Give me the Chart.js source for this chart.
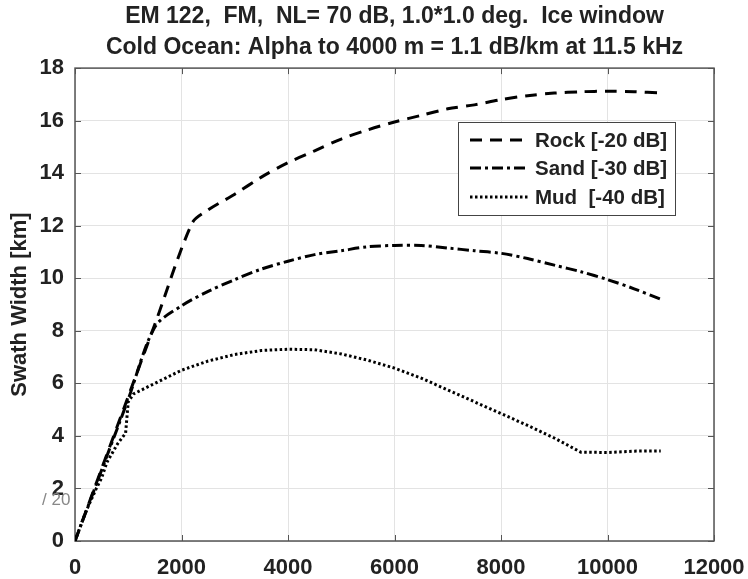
<!DOCTYPE html>
<html><head><meta charset="utf-8">
<script src="https://cdn.jsdelivr.net/npm/chart.js@4"></script>
<style>html,body{margin:0;padding:0;background:#fff}#wrap{width:748px;height:579px}</style>
</head><body><div id="wrap"><canvas id="c" width="748" height="579"></canvas></div>
<script>
const titleLines = ['EM 122,  FM,  NL= 70 dB, 1.0*1.0 deg.  Ice window',
                    'Cold Ocean: Alpha to 4000 m = 1.1 dB/km at 11.5 kHz'];
const yAxisLabel = 'Swath Width [km]';
const watermark = '/ 20';
const seriesNames = ['Rock [-20 dB]', 'Sand [-30 dB]', 'Mud  [-40 dB]'];
const xTicks = [0, 2000, 4000, 6000, 8000, 10000, 12000];
const yTicks = [0, 2, 4, 6, 8, 10, 12, 14, 16, 18];

const rockDepth = [0, 500, 1000, 1500, 2200, 2500, 3000, 3500, 4000, 4500, 5000, 5500, 6000, 6500, 7000, 7500, 8000, 8500, 9000, 9500, 10000, 10500, 11000];
const rockSwath = [0, 2.75, 5.5, 8.25, 12.1, 12.6, 13.2, 13.85, 14.4, 14.85, 15.3, 15.65, 15.95, 16.2, 16.45, 16.6, 16.8, 16.95, 17.05, 17.1, 17.12, 17.1, 17.05];

const sandDepth = [0, 500, 1000, 1500, 2000, 2500, 3000, 3500, 4000, 4500, 5000, 5500, 6000, 6500, 7000, 7500, 8000, 8500, 9000, 9500, 10000, 10500, 11000];
const sandSwath = [0, 2.7, 5.4, 8.15, 8.95, 9.5, 9.95, 10.35, 10.65, 10.9, 11.05, 11.2, 11.25, 11.25, 11.15, 11.05, 10.95, 10.75, 10.5, 10.25, 9.95, 9.6, 9.2];

const mudDepth = [0, 200, 400, 500, 600, 800, 950, 1000, 1100, 1500, 2000, 2500, 3000, 3500, 4000, 4500, 5000, 5500, 6000, 6500, 7000, 7500, 8000, 8500, 9000, 9500, 10000, 10500, 11000];
const mudSwath = [0, 1.1, 2.0, 2.4, 3.0, 3.7, 4.1, 5.3, 5.6, 6.0, 6.5, 6.85, 7.1, 7.25, 7.3, 7.28, 7.12, 6.88, 6.58, 6.2, 5.75, 5.3, 4.85, 4.4, 3.92, 3.38, 3.37, 3.42, 3.43];

const toPts = (xs, ys) => xs.map((x, i) => ({x: x, y: ys[i]}));

Chart.defaults.font.family = '"Liberation Sans", Arial, sans-serif';
Chart.defaults.color = '#222';

const boxPlugin = {
  id: 'matlabBox',
  beforeDatasetsDraw(chart) {
    const {ctx, chartArea: a, scales} = chart;
    ctx.save();
    ctx.strokeStyle = '#555';
    ctx.lineWidth = 1;
    xTicks.forEach(v => {
      const px = Math.round(scales.x.getPixelForValue(v)) + 0.5;
      ctx.beginPath(); ctx.moveTo(px, a.bottom); ctx.lineTo(px, a.bottom - 6);
      ctx.moveTo(px, a.top); ctx.lineTo(px, a.top + 6); ctx.stroke();
    });
    yTicks.forEach(v => {
      const py = Math.round(scales.y.getPixelForValue(v)) + 0.5;
      ctx.beginPath(); ctx.moveTo(a.left, py); ctx.lineTo(a.left + 6, py);
      ctx.moveTo(a.right, py); ctx.lineTo(a.right - 6, py); ctx.stroke();
    });
    ctx.lineWidth = 1.5;
    ctx.strokeRect(a.left, a.top, a.right - a.left, a.bottom - a.top);
    ctx.restore();
  },
  afterDatasetsDraw(chart) {
    const {ctx} = chart;
    ctx.save();
    const L = 458, T = 122, W = 217, H = 93;
    ctx.fillStyle = '#fff';
    ctx.fillRect(L, T, W, H);
    ctx.strokeStyle = '#444';
    ctx.lineWidth = 1;
    ctx.strokeRect(L + 0.5, T + 0.5, W, H);
    const rows = [140, 168, 197];
    chart.data.datasets.forEach((ds, i) => {
      ctx.beginPath();
      ctx.setLineDash(ds.borderDash || []);
      ctx.strokeStyle = ds.borderColor;
      ctx.lineWidth = ds.borderWidth;
      ctx.moveTo(470, rows[i]); ctx.lineTo(529, rows[i]);
      ctx.stroke();
      ctx.setLineDash([]);
      ctx.fillStyle = '#222';
      ctx.font = 'bold 20.5px "Liberation Sans", Arial, sans-serif';
      ctx.textBaseline = 'middle';
      ctx.textAlign = 'left';
      ctx.fillText(ds.label, 535, rows[i] + 1);
    });
    ctx.fillStyle = '#888';
    ctx.font = '17px "Liberation Sans", Arial, sans-serif';
    ctx.textAlign = 'left';
    ctx.textBaseline = 'middle';
    ctx.fillText(watermark, 42, 500);
    ctx.restore();
  }
};

const lineW = 3;
new Chart(document.getElementById('c'), {
  type: 'line',
  data: {
    datasets: [
      {label: seriesNames[0], data: toPts(rockDepth, rockSwath), borderColor: '#000', borderWidth: lineW, borderDash: [12, 8], pointRadius: 0, tension: 0.3, fill: false},
      {label: seriesNames[1], data: toPts(sandDepth, sandSwath), borderColor: '#000', borderWidth: lineW, borderDash: [11, 4, 3, 4], pointRadius: 0, tension: 0.3, fill: false},
      {label: seriesNames[2], data: toPts(mudDepth, mudSwath), borderColor: '#000', borderWidth: lineW, borderDash: [2.5, 2.5], pointRadius: 0, tension: 0, fill: false}
    ]
  },
  options: {
    responsive: false,
    animation: false,
    layout: {padding: {left: 0, right: 34, top: 0, bottom: 0}},
    plugins: {
      legend: {display: false},
      tooltip: {enabled: false},
      title: {
        display: true, text: titleLines, fullSize: false,
        color: '#222',
        font: {size: 23, weight: 'bold', lineHeight: 1.35},
        padding: {top: 1, bottom: 5}
      }
    },
    scales: {
      x: {
        type: 'linear', min: 0, max: 12000,
        afterFit(s) { s.height = 38; s.paddingLeft = 0; s.paddingRight = 0; },
        afterBuildTicks(s) { s.ticks = xTicks.map(v => ({value: v})); },
        ticks: {font: {size: 22, weight: 'bold'}, color: '#222', padding: 14, maxRotation: 0,
                callback: v => String(v)},
        grid: {color: '#e3e3e3', lineWidth: 1, drawTicks: false},
        border: {display: false}
      },
      y: {
        type: 'linear', min: 0, max: 18,
        afterFit(s) { s.width = 75; s.paddingTop = 0; s.paddingBottom = 0; },
        afterBuildTicks(s) { s.ticks = yTicks.map(v => ({value: v})); },
        ticks: {font: {size: 22, weight: 'bold'}, color: '#222', padding: 11,
                callback: v => String(v)},
        grid: {color: '#e3e3e3', lineWidth: 1, drawTicks: false},
        border: {display: false},
        title: {display: true, text: yAxisLabel, color: '#222', font: {size: 22, weight: 'bold'}, padding: {top: 7, bottom: 0}}
      }
    }
  },
  plugins: [boxPlugin]
});
</script></body></html>
